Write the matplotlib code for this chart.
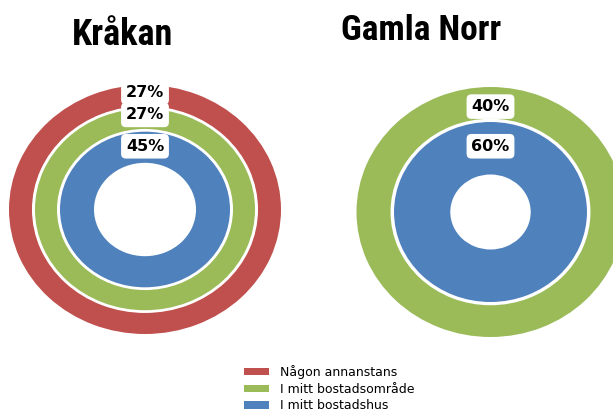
import matplotlib
matplotlib.use("Agg")
import matplotlib.pyplot as plt
from matplotlib.patches import Patch
from matplotlib import font_manager as fm

W, H = 613, 411
DPI = 100

# ---- data ----
titles = ["Kråkan", "Gamla Norr"]
legend_labels = ["Någon annanstans", "I mitt bostadsområde", "I mitt bostadshus"]
colors = {"Någon annanstans": "#C0504D",
          "I mitt bostadsområde": "#9BBB59",
          "I mitt bostadshus": "#4F81BD"}

krakan_series = ["Någon annanstans", "I mitt bostadsområde", "I mitt bostadshus"]
krakan_values = [27, 27, 45]
gamla_series = ["I mitt bostadsområde", "I mitt bostadshus"]
gamla_values = [40, 60]

# ---- layout (ring radii: outer, inner, label nudge) ----
krakan_rings = [(1.0, 0.831, 0.026), (0.809, 0.647, 0.032), (0.625, 0.375, 0.008)]
gamla_rings = [(1.0, 0.746, -0.03), (0.72, 0.30, 0.016)]


def find_narrow_bold():
    prefs = ["liberation sans narrow", "arial narrow", "roboto condensed",
             "open sans condensed", "noto sans condensed", "dejavu sans condensed"]
    cands = []
    for f in fm.fontManager.ttflist:
        nm = f.name.lower()
        fn = f.fname.lower()
        w = f.weight if isinstance(f.weight, int) else (700 if "bold" in str(f.weight) else 400)
        narrow = ("narrow" in nm or "condensed" in nm or "narrow" in fn or "condensed" in fn
                  or str(f.stretch) in ("condensed", "semi-condensed", "extra-condensed"))
        if narrow and w >= 600 and "italic" not in fn and "oblique" not in fn:
            rank = len(prefs)
            for i, p in enumerate(prefs):
                if p in nm or p.replace(" ", "") in fn.replace("-", "").replace("_", ""):
                    rank = i
                    break
            cands.append((rank, f.fname))
    cands.sort()
    return cands[0][1] if cands else None


fig = plt.figure(figsize=(W / DPI, H / DPI), dpi=DPI)
fig.patch.set_facecolor("white")


def make_ax(cx, cy_top, sx, sy, lim=1.1):
    w = 2 * lim * sx
    h = 2 * lim * sy
    left = cx - w / 2
    bottom = (H - cy_top) - h / 2
    return fig.add_axes([left / W, bottom / H, w / W, h / H])


def draw(ax, series, values, rings, lim=1.1):
    for s, v, (ro, ri, dy) in zip(series, values, rings):
        ax.pie([1], radius=ro, colors=[colors[s]], startangle=90,
               wedgeprops=dict(width=ro - ri, edgecolor="none"))
        ax.text(0, (ro + ri) / 2 + dy, f"{v}%", ha="center", va="center",
                fontsize=11.5, fontweight="bold", color="black",
                bbox=dict(boxstyle="round,pad=0.3", fc="white", ec="none"))
    ax.set_aspect("auto")
    ax.set_xlim(-lim, lim)
    ax.set_ylim(-lim, lim)
    ax.axis("off")


ax1 = make_ax(145, 209.5, 136, 124.5)
draw(ax1, krakan_series, krakan_values, krakan_rings)
ax2 = make_ax(490.5, 212, 134, 125)
draw(ax2, gamla_series, gamla_values, gamla_rings)

narrow = find_narrow_bold()
if narrow:
    fp1 = fm.FontProperties(fname=narrow, size=26)
    fp2 = fm.FontProperties(fname=narrow, size=25.5)
else:
    fp1 = fm.FontProperties(family="Liberation Sans", weight="bold", size=21)
    fp2 = fm.FontProperties(family="Liberation Sans", weight="bold", size=21)

fig.text(122 / W, (H - 45) / H, titles[0], ha="center", va="baseline",
         fontproperties=fp1)
fig.text(421 / W, (H - 39.5) / H, titles[1], ha="center", va="baseline",
         fontproperties=fp2)

handles = [Patch(facecolor=colors[l], edgecolor="none") for l in legend_labels]
fig.legend(handles, legend_labels, loc="upper left",
           bbox_to_anchor=(244 / W, (H - 365) / H), frameon=False,
           fontsize=9, borderpad=0, borderaxespad=0, labelspacing=0.3,
           handlelength=2.0, handleheight=0.5, handletextpad=0.85)

fig.savefig("out.png", dpi=DPI)
